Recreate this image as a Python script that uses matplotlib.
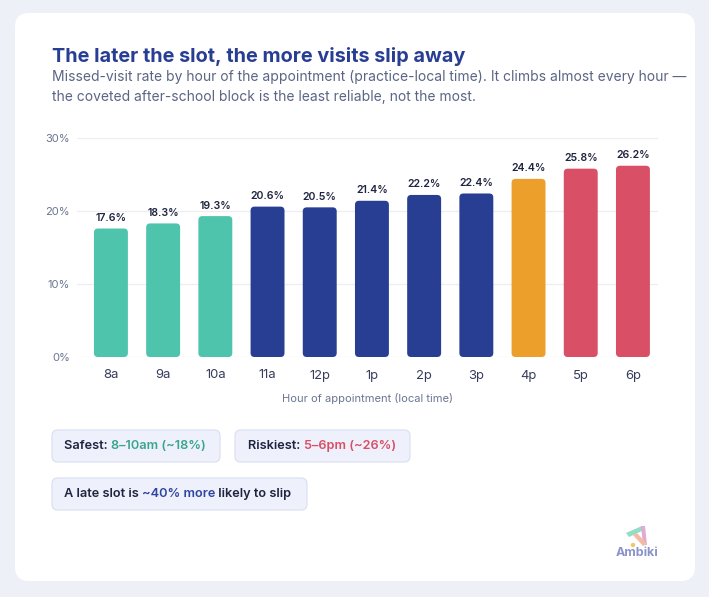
import matplotlib.pyplot as plt
from matplotlib.patches import FancyBboxPatch, Circle, Polygon
import numpy as np

plt.rcParams['font.family'] = ['Inter', 'DejaVu Sans']

hours = ['8a', '9a', '10a', '11a', '12p', '1p', '2p', '3p', '4p', '5p', '6p']
rates = [17.6, 18.3, 19.3, 20.6, 20.5, 21.4, 22.2, 22.4, 24.4, 25.8, 26.2]
groups = ['safe', 'safe', 'safe', 'mid', 'mid', 'mid', 'mid', 'mid', 'warn', 'risk', 'risk']
yticks = [0, 10, 20, 30]

colors = {'safe': '#4fc4ad', 'mid': '#283e93', 'warn': '#eca02b', 'risk': '#d94f66'}
W, H = 709, 597

fig = plt.figure(figsize=(W / 100, H / 100), dpi=100)
fig.patch.set_facecolor('#eef0f7')

def fx(px):
    return px / W

def fy(py):
    return 1 - py / H

# white card (behind everything)
card = FancyBboxPatch((fx(15), fy(581)), fx(680), 568 / H,
                      boxstyle='round,pad=0,rounding_size=0.02',
                      transform=fig.transFigure, facecolor='white', edgecolor='none',
                      mutation_aspect=W / H, zorder=-10)
fig.patches.append(card)

fig.text(fx(52), fy(56), 'The later the slot, the more visits slip away', fontsize=14.3,
         fontweight='bold', color='#283e93', va='center')
fig.text(fx(52), fy(77), 'Missed-visit rate by hour of the appointment (practice-local time). It climbs almost every hour \u2014',
         fontsize=10.0, color='#5b6584', va='center')
fig.text(fx(52), fy(97), 'the coveted after-school block is the least reliable, not the most.',
         fontsize=10.0, color='#5b6584', va='center')

ax = fig.add_axes([fx(77), fy(357), fx(658 - 77), (357 - 138) / H])
ax.patch.set_alpha(0)
x = np.arange(len(hours))
bars = ax.bar(x, rates, width=0.65, color=[colors[g] for g in groups])
ax.set_xlim(-0.65, len(hours) - 1 + 0.48)
ax.set_ylim(0, 30)

# swap square bars for rounded ones
xu = 52.2  # px per x unit
yu = 219 / 30  # px per y unit
for b in bars:
    b.set_visible(False)
    r = FancyBboxPatch((b.get_x(), 0), b.get_width(), b.get_height(),
                       boxstyle='round,pad=0,rounding_size=%f' % (4 / xu),
                       mutation_aspect=xu / yu, facecolor=b.get_facecolor(),
                       edgecolor='none', zorder=3)
    ax.add_patch(r)

for xi, v in zip(x, rates):
    ax.annotate(f'{v}%', (xi, v), xytext=(0, 4), textcoords='offset points',
                ha='center', va='bottom', fontsize=7.6, fontweight='semibold', color='#1f2440')

ax.set_yticks(yticks)
ax.set_yticklabels([f'{t}%' for t in yticks])
ax.set_xticks(x)
ax.set_xticklabels(hours)
ax.tick_params(axis='y', length=0, pad=5, labelsize=8, labelcolor='#6b7592')
ax.tick_params(axis='x', length=0, pad=9, labelsize=9.4, labelcolor='#363c5a')
ax.grid(axis='y', color='#eceef4', linewidth=0.9)
ax.set_axisbelow(True)
for s in ax.spines.values():
    s.set_visible(False)
ax.set_xlabel('Hour of appointment (local time)', fontsize=8, color='#6b7592', labelpad=8)

# callout boxes
def pill(x0, y0, x1, y1):
    p = FancyBboxPatch((fx(x0), fy(y1)), fx(x1 - x0), (y1 - y0) / H,
                       boxstyle='round,pad=0,rounding_size=0.008',
                       transform=fig.transFigure, facecolor='#eef1fb',
                       edgecolor='#d9def1', linewidth=0.8, mutation_aspect=W / H)
    fig.patches.append(p)

fig.canvas.draw()
rend = fig.canvas.get_renderer()

def pieces(x0, yc, parts):
    xp = x0
    for txt, col in parts:
        t = fig.text(fx(xp), fy(yc), txt, fontsize=9.2, fontweight='semibold', color=col, va='center')
        bb = t.get_window_extent(renderer=rend)
        xp += bb.width

pill(52, 430, 220, 462)
pill(235, 430, 410, 462)
pill(52, 478, 307, 510)
pieces(64, 446, [('Safest: ', '#1f2440'), ('8\u201310am (~18%)', '#3aa58e')])
pieces(248, 446, [('Riskiest: ', '#1f2440'), ('5\u20136pm (~26%)', '#d94f66')])
pieces(64, 494, [('A late slot is ', '#1f2440'), ('~40% more', '#2e46a0'), (' likely to slip', '#1f2440')])

# logo, drawn in pixel coordinates
logo = fig.add_axes([fx(605), fy(568), fx(65), 55 / H])
logo.patch.set_alpha(0)
logo.set_xlim(605, 670)
logo.set_ylim(568, 513)
logo.axis('off')
logo.add_patch(Polygon([[626, 533], [642, 526], [644, 530], [629, 537]], closed=True, facecolor='#93dcc6', edgecolor='none'))
logo.add_patch(Polygon([[641, 526], [645, 526], [647, 545], [643, 545]], closed=True, facecolor='#e2aad3', edgecolor='none'))
logo.add_patch(Polygon([[633, 535], [637, 533], [647, 544], [643, 546]], closed=True, facecolor='#f4bba4', edgecolor='none'))
logo.add_patch(Circle((633, 545), 2.2, facecolor='#f3c66b', edgecolor='none'))
logo.text(637, 553, 'Ambiki', ha='center', va='center', fontsize=9, fontweight='bold', color='#8a93c9')

fig.savefig('out.png', dpi=100, facecolor=fig.get_facecolor())
